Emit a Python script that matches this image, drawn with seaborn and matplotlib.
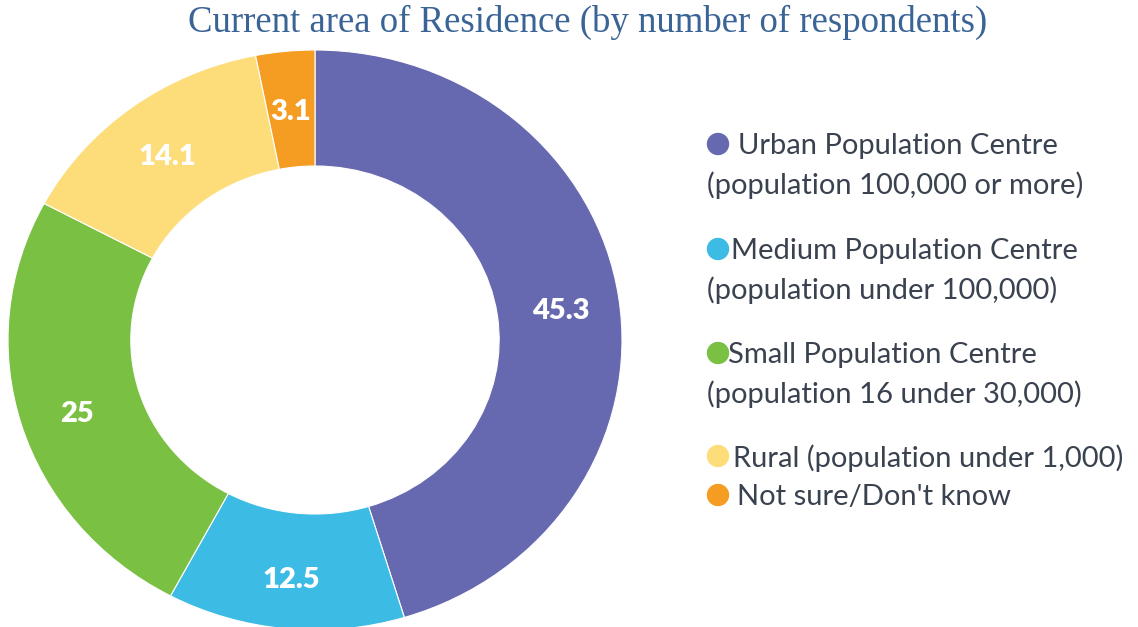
import matplotlib.pyplot as plt
import seaborn as sns

# chart data
categories = [
    "Urban Population Centre",
    "Medium Population Centre",
    "Small Population Centre",
    "Rural (population under 1,000)",
    "Not sure/Don't know",
]
subtitles = [
    "(population 100,000 or more)",
    "(population under 100,000)",
    "(population 16 under 30,000)",
    "",
    "",
]
values = [45.3, 12.5, 25, 14.1, 3.1]
colors = ["#6769B0", "#3CBCE4", "#7AC043", "#FDDC7A", "#F59D22"]

sns.set_theme(style="white")
plt.rcParams['font.family'] = ['Lato', 'DejaVu Sans']
palette = sns.color_palette(colors)

W, H = 1138, 627
fig = plt.figure(figsize=(W / 100, H / 100), dpi=100)

# donut is slightly wider than tall in the reference
cx, cy, rx, ry = 315, 340, 307, 290
ax = fig.add_axes([(cx - rx) / W, (H - cy - ry) / H, 2 * rx / W, 2 * ry / H])

wedges, _, autotexts = ax.pie(
    values, colors=palette, startangle=90, counterclock=False,
    autopct=lambda p: f"{round(p, 1):g}", pctdistance=0.81,
    wedgeprops=dict(width=0.4, edgecolor="white", linewidth=0.8),
    textprops=dict(color="white", fontsize=21, fontweight="heavy"),
)
for t in autotexts:
    px, py = t.get_position()
    t.set_position((px, py - 6 / ry))
ax.set_aspect("auto")
ax.set_xlim(-1, 1)
ax.set_ylim(-1, 1)

fig.text(0.516, 0.965, "Current area of Residence (by number of respondents)",
         ha="center", va="center", fontsize=26.5, color="#3B6496",
         family=["Liberation Serif", "DejaVu Serif"])

# legend drawn in a pixel-space overlay
lax = fig.add_axes([0, 0, 1, 1])
lax.set_xlim(0, W)
lax.set_ylim(H, 0)
lax.axis("off")

first_y = [144, 249, 353, 456, 495]
text_x = [738, 731, 728, 733, 737]
sns.scatterplot(x=[718] * 5, y=first_y, hue=categories, palette=palette,
                s=260, linewidth=0, legend=False, ax=lax)
for name, sub, y, x in zip(categories, subtitles, first_y, text_x):
    lax.text(x, y + 2, name, fontsize=21, color="#3A4250", va="center")
    if sub:
        lax.text(707, y + 41, sub, fontsize=21, color="#3A4250", va="center")

fig.savefig("out.png", dpi=100)
